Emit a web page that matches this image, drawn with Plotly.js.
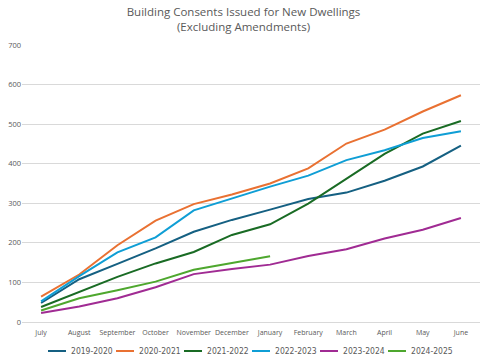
<!DOCTYPE html>
<html>
<head>
<meta charset="utf-8">
<script src="https://cdn.plot.ly/plotly-3.0.1.min.js"></script>
<style>html,body{margin:0;padding:0;background:#fff;}#chart{width:487px;height:362px;}</style>
</head>
<body>
<div id="chart"></div>
<script>
const months = ["July","August","September","October","November","December","January","February","March","April","May","June"];
const s2019_2020 = [48, 108, 147, 186, 228, 258, 284, 311, 327, 357, 393, 446];
const s2020_2021 = [64, 120, 194, 256, 298, 322, 350, 388, 451, 486, 532, 573];
const s2021_2022 = [38, 77, 114, 148, 177, 220, 247, 299, 363, 425, 476, 508];
const s2022_2023 = [52, 116, 176, 214, 282, 312, 342, 370, 409, 434, 465, 482];
const s2023_2024 = [23, 39, 60, 88, 121, 134, 145, 167, 184, 211, 233, 263];
const s2024_2025 = [29, 60, 80, 102, 132, 149, 166];
const seriesNames = ["2019-2020","2020-2021","2021-2022","2022-2023","2023-2024","2024-2025"];
const seriesData = [s2019_2020, s2020_2021, s2021_2022, s2022_2023, s2023_2024, s2024_2025];
const colors = ["#156082","#E97132","#196B24","#0F9ED5","#A02B93","#4EA72E"];
const LEGEND_STEP = 68;

const traces = seriesData.map((d, i) => ({
  type: "scatter",
  mode: "lines",
  name: seriesNames[i],
  x: months.slice(0, d.length),
  y: d,
  line: {color: colors[i], width: 2}
}));

const layout = {
  width: 487, height: 362,
  margin: {l: 22, r: 7, t: 45, b: 40},
  paper_bgcolor: "#fff", plot_bgcolor: "#fff",
  font: {family: "Open Sans, sans-serif", color: "#595959", size: 8},
  title: {
    text: "Building Consents Issued for New Dwellings<br>(Excluding Amendments)",
    font: {family: "Open Sans, sans-serif", size: 11.5, color: "#595959"},
    x: 0.5, xanchor: "center", y: 0.957, yanchor: "middle", yref: "container"
  },
  xaxis: {
    type: "category", categoryorder: "array", categoryarray: months,
    showgrid: false, zeroline: false, showline: false, automargin: false,
    ticks: "", tickangle: 0, ticklabelstandoff: 5, tickfont: {size: 7, color: "#595959"},
    range: [-0.5, 11.5]
  },
  yaxis: {
    range: [0, 700], dtick: 100, showgrid: true, gridcolor: "#d9d9d9", gridwidth: 1,
    zeroline: true, zerolinecolor: "#d9d9d9", showline: false, ticks: "", automargin: false,
    tickfont: {size: 7.5, color: "#595959"}
  },
  showlegend: true,
  legend: {
    orientation: "h", x: 0.0197, xanchor: "left",
    y: 0.0304, yanchor: "middle", yref: "container",
    bgcolor: "rgba(0,0,0,0)",
    font: {family: "Liberation Sans Narrow, DejaVu Sans Condensed, sans-serif", size: 8.5, color: "#595959"},
    itemwidth: 30, entrywidth: 22, entrywidthmode: "pixels", traceorder: "normal"
  }
};

Plotly.newPlot("chart", traces, layout, {staticPlot: true, displayModeBar: false}).then(gd => {
  const items = gd.querySelectorAll(".legend .traces");
  let x0 = null;
  items.forEach((g, i) => {
    const t = g.getAttribute("transform") || "";
    const m = t.match(/translate\(\s*([-\d.e]+)[\s,]+([-\d.e]+)\s*\)/);
    const tx = m ? parseFloat(m[1]) : 0;
    const ty = m ? parseFloat(m[2]) : 0;
    if (x0 === null) x0 = tx;
    g.setAttribute("transform", "translate(" + (x0 + i * LEGEND_STEP) + "," + ty + ")");
  });
  gd.querySelectorAll(".legend .legendlines path").forEach(p => p.setAttribute("d", "M17,0h18"));
  gd.querySelectorAll(".legend .scrollbox").forEach(s => s.removeAttribute("clip-path"));
});
</script>
</body>
</html>
